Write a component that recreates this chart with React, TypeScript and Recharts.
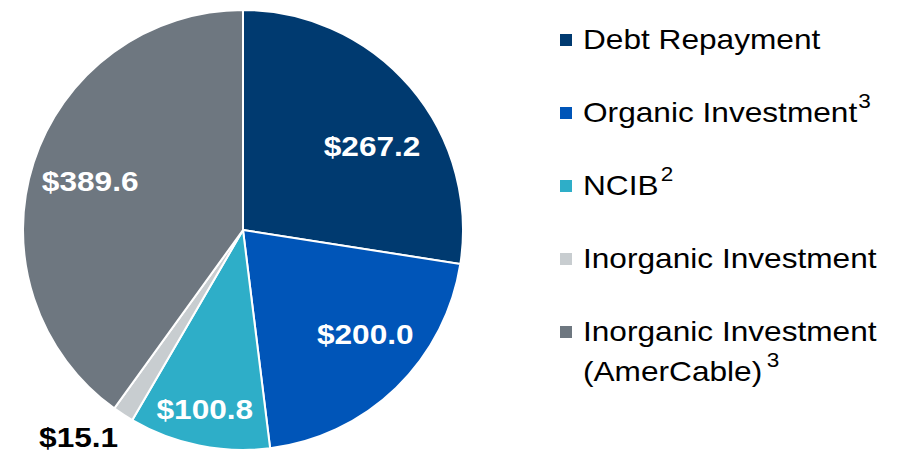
import React from 'react';
import { PieChart, Pie, Cell, Legend } from 'recharts';

const categories = ['Debt Repayment', 'Organic Investment', 'NCIB', 'Inorganic Investment', 'Inorganic Investment (AmerCable)'];
const values = [267.2, 200.0, 100.8, 15.1, 389.6];
const legendLines = [['Debt Repayment'], ['Organic Investment'], ['NCIB'], ['Inorganic Investment'], ['Inorganic Investment', '(AmerCable)']];
const superscripts = ['', '3', '2', '', '3'];

const colors = ['#003A70', '#0055B8', '#2EAEC8', '#C8CDD0', '#6E7780'];
const labelColors = ['#FFFFFF', '#FFFFFF', '#FFFFFF', '#000000', '#FFFFFF'];
const labelRadius = [0.7, 0.73, 0.83, 1.2, 0.73];
const labelAngleShift = [-7.5, 5.5, -0.5, -5.5, 0];
const superDx = [0, 1, 2, 0, 4];

const data = categories.map((name, i) => ({ name, value: values[i] }));

const STRETCH = 1.13;
const FONT = '"Liberation Sans", Arial, sans-serif';
const RADIAN = Math.PI / 180;

const renderLabel = (props: any) => {
  const { cx, cy, midAngle, outerRadius, index } = props;
  const a = (midAngle + labelAngleShift[index]) * RADIAN;
  const r = outerRadius * labelRadius[index];
  const x = cx + r * Math.cos(a);
  const y = cy - r * Math.sin(a);
  return (
    <text
      x={0}
      y={0}
      transform={`translate(${x},${y}) scale(${STRETCH},1)`}
      textAnchor="middle"
      dy="0.36em"
      fill={labelColors[index]}
      fontFamily={FONT}
      fontWeight="bold"
      fontSize={28}
    >
      {`$${values[index].toFixed(1)}`}
    </text>
  );
};

const LegendContent = () => (
  <svg width={365} height={455}>
    {categories.map((c, i) => {
      const base = 49 + i * 73;
      const lines = legendLines[i];
      return (
        <g key={c}>
          <rect x={20} y={base - 15} width={12} height={12} fill={colors[i]} />
          <text
            x={0}
            y={0}
            transform={`translate(43,${base}) scale(${STRETCH},1)`}
            fontFamily={FONT}
            fontSize={28}
            fill="#000"
          >
            {lines.map((l, j) => (
              <tspan key={j} x={0} y={j * 40}>
                {l}
              </tspan>
            ))}
            {superscripts[i] ? (
              <tspan dx={superDx[i]} dy={-14} fontSize={20}>
                {superscripts[i]}
              </tspan>
            ) : null}
          </text>
        </g>
      );
    })}
  </svg>
);

export default function App() {
  return (
    <div style={{ position: 'absolute', left: 0, top: 0, width: 905, height: 455, background: '#fff' }}>
      <PieChart width={905} height={455} margin={{ top: 0, right: 0, bottom: 0, left: 0 }}>
        <Pie
          data={data}
          dataKey="value"
          nameKey="name"
          cx={243}
          cy={230}
          outerRadius={220}
          startAngle={90}
          endAngle={-270}
          stroke="#FFFFFF"
          strokeWidth={2}
          labelLine={false}
          label={renderLabel}
          isAnimationActive={false}
        >
          {data.map((d, i) => (
            <Cell key={d.name} fill={colors[i]} />
          ))}
        </Pie>
        <Legend
          content={<LegendContent />}
          wrapperStyle={{ position: 'absolute', left: 540, top: 0, width: 365, height: 455 }}
        />
      </PieChart>
    </div>
  );
}
